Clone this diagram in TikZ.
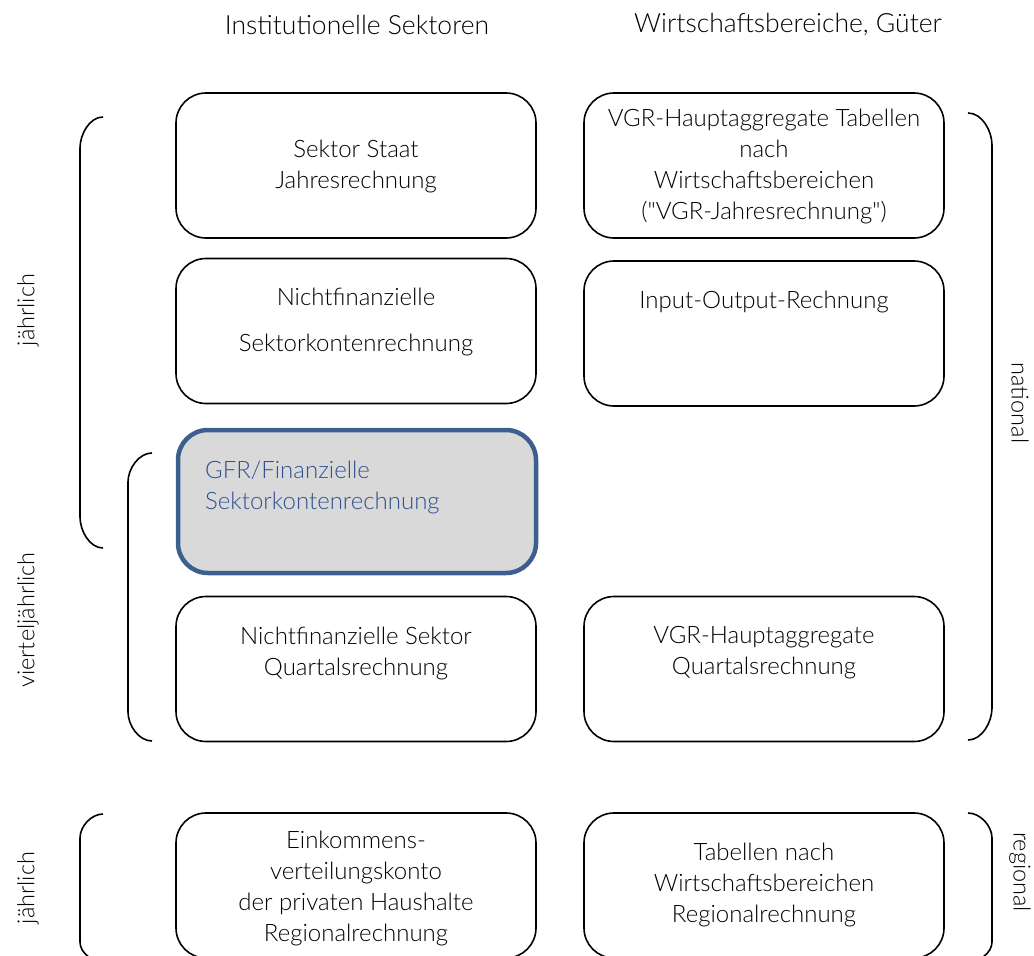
\documentclass[tikz,border=0pt]{standalone}
\usepackage{fontspec}
\setmainfont{Lato Light}
\newfontfamily\qfont{Lato Light}
\newcommand{\sq}{{\qfont\char34}}
\definecolor{gfrblue}{HTML}{3C5F8F}
\definecolor{gfrtext}{HTML}{2F528F}
\definecolor{gfrfill}{HTML}{D9D9D9}
\begin{document}
\begin{tikzpicture}[x=1pt,y=-1pt,
  box/.style={draw=black,line width=1.6pt,rounded corners=30pt,minimum width=360pt,minimum height=145pt,inner sep=0pt},
  gfrbox/.style={draw=gfrblue,fill=gfrfill,line width=4.5pt,rounded corners=30pt,minimum width=358pt,minimum height=143pt,inner sep=0pt},
  txt/.style={align=center,inner sep=0pt,font=\fontsize{24}{31}\selectfont},
  head/.style={inner sep=0pt,font=\fontsize{26.5}{30}\selectfont},
  side/.style={inner sep=0pt,font=\fontsize{23.5}{28}\selectfont},
  brk/.style={line width=1.6pt}
]
\useasboundingbox (0,0) rectangle (1034,956);
% headers
\node[head] (h1) at (357,25) {Institutionelle Sektoren};
\node[head] (h2) at (788,25) {Wirtschaftsbereiche, Güter};
% boxes
\node[box] (b1) at (356,165.5) {};
\node[box] (b2) at (764,165.5) {};
\node[box] (b3) at (356,331) {};
\node[box] (b4) at (764,333.5) {};
\node[gfrbox] (b5) at (357,501.5) {};
\node[box] (b6) at (356,669) {};
\node[box] (b7) at (764,669) {};
\node[box] (b8) at (356,885.5) {};
\node[box] (b9) at (764,885.5) {};
% texts
\node[txt] (t1) at (356,166) {Sektor Staat\\Jahresrechnung};
\node[txt] (t2) at (764,166) {VGR-Hauptaggregate Tabellen\\nach\\Wirtschaftsbereichen\\(\sq VGR-Jahresrechnung\sq)};
\node[txt] (t3) at (356,322) {Nichtfinanzielle\\[15pt]Sektorkontenrechnung};
\node[txt] (t4) at (764,302) {Input-Output-Rechnung};
\node[txt,align=left,anchor=west,text=gfrtext] (t5) at (205,487) {GFR/Finanzielle\\Sektorkontenrechnung};
\node[txt] (t6) at (356,653) {Nichtfinanzielle Sektor\\Quartalsrechnung};
\node[txt] (t7) at (764,653) {VGR-Hauptaggregate\\Quartalsrechnung};
\node[txt] (t8) at (356,888) {Einkommens-\\verteilungskonto\\der privaten Haushalte\\Regionalrechnung};
\node[txt] (t9) at (764,885) {Tabellen nach\\Wirtschaftsbereichen\\Regionalrechnung};
% brackets
\coordinate (ja1) at (103,117); \coordinate (ja2) at (103,548);
\draw[brk] (ja1) to[out=180,in=90,looseness=0.9] (80,148) -- (80,517) to[out=-90,in=180,looseness=0.9] (ja2);
\coordinate (vj1) at (152,453); \coordinate (vj2) at (152,741);
\draw[brk] (vj1) to[out=180,in=90,looseness=0.9] (128,482) -- (128,712) to[out=-90,in=180,looseness=0.9] (vj2);
\coordinate (na1) at (968,113); \coordinate (na2) at (968,740);
\draw[brk] (na1) to[out=0,in=90,looseness=0.9] (992,145) -- (992,708) to[out=-90,in=0,looseness=0.9] (na2);
\coordinate (jb1) at (103,814); \coordinate (jb2) at (103,962);
\draw[brk] (jb1) to[out=180,in=90,looseness=0.9] (80,838) -- (80,942) to[out=-90,in=180,looseness=0.9] (jb2);
\coordinate (re1) at (968,813); \coordinate (re2) at (968,962);
\draw[brk] (re1) to[out=0,in=90,looseness=0.9] (992,838) -- (992,942) to[out=-90,in=0,looseness=0.9] (re2);
% side labels
\node[side,rotate=90] (s1) at (28,310) {jährlich};
\node[side,rotate=90] (s2) at (28,620) {vierteljährlich};
\node[side,rotate=-90] (s3) at (1020,403) {national};
\node[side,rotate=90] (s4) at (28,888) {jährlich};
\node[side,rotate=-90] (s5) at (1020,872) {regional};
\end{tikzpicture}
\end{document}
